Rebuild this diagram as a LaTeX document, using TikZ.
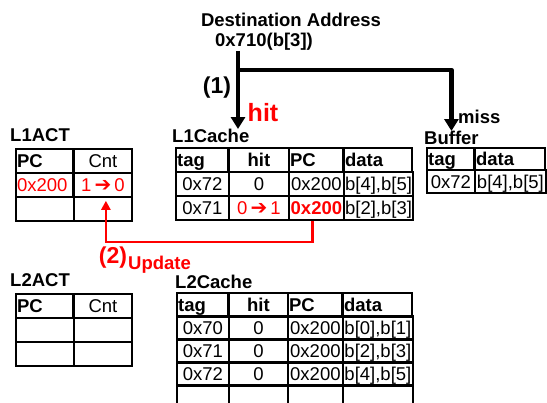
\documentclass[tikz,border=0pt]{standalone}
\usepackage{fontspec}
\setmainfont{Liberation Sans}
\newfontfamily\arrowfont{DejaVu Sans}
\usetikzlibrary{arrows.meta}

\definecolor{updred}{RGB}{255,0,0}
\newcommand{\tbl}{\fontsize{18.5}{20}\selectfont}
\newcommand{\upto}{\,{\arrowfont\fontsize{20}{20}\selectfont ➔}\,}

\tikzset{
  cell/.style={draw, line width=1.8pt, anchor=north west, minimum height=24pt,
    inner xsep=1.2pt, inner ysep=0pt, text height=12.8pt, text depth=0pt, font=\tbl},
  head/.style={cell, font=\tbl\bfseries},
  lalign/.style={text width=#1, align=left},
  title/.style={font=\tbl\bfseries, anchor=west, inner sep=0pt},
  flow/.style={line width=4.5pt, line join=round, -{Triangle[width=14pt,length=12pt]}},
  update/.style={updred, line width=2.8pt, -{Triangle[width=9pt,length=9pt]}}
}

\begin{document}
\begin{tikzpicture}[x=1pt,y=-1pt]
        \useasboundingbox (0,0) rectangle (547,403);

        % Direccion destino
        \node[title, anchor=center] (addr) at (291,20) {Destination Address};
        \node[title, anchor=center] (addrval) at (264,42) {0x710(b[3])};
        \coordinate (split) at (238,70);

        % L1ACT
        \node[title] (l1acttl) at (10,135) {L1ACT};
        \node[head, lalign=55pt] (l1act-pc0) at (15,148) {PC};
        \node[cell, minimum width=58pt] (l1act-cnt0) at (73,148) {Cnt};
        \node[cell, lalign=55pt, text=updred] (l1act-pc1) at (15,172) {0x200};
        \node[cell, minimum width=58pt, text=updred] (l1act-cnt1) at (73,172) {1\upto0};
        \node[cell, minimum width=58pt] (l1act-pc2) at (15,196) {};
        \node[cell, minimum width=58pt] (l1act-cnt2) at (73,196) {};

        % L1Cache
        \node[title] (l1ctl) at (172,136) {L1Cache};
        \node[head, lalign=50pt] (l1c-tag0) at (175,147) {tag};
        \node[head, minimum width=60pt] (l1c-hit0) at (228,147) {hit};
        \node[head, lalign=52pt] (l1c-pc0) at (288,147) {PC};
        \node[head, lalign=66pt] (l1c-data0) at (343,147) {data};
        \node[cell, minimum width=53pt] (l1c-tag1) at (175,171) {0x72};
        \node[cell, minimum width=60pt] (l1c-hit1) at (228,171) {0};
        \node[cell, minimum width=55pt] (l1c-pc1) at (288,171) {0x200};
        \node[cell, minimum width=69pt] (l1c-data1) at (343,171) {b[4],b[5]};
        \node[cell, minimum width=53pt] (l1c-tag2) at (175,195) {0x71};
        \node[cell, minimum width=60pt, text=updred] (l1c-hit2) at (228,195) {0\upto1};
        \node[cell, minimum width=55pt, text=updred, font=\tbl\bfseries] (l1c-pc2) at (288,195) {0x200};
        \node[cell, minimum width=69pt] (l1c-data2) at (343,195) {b[2],b[3]};

        % Buffer
        \node[title] (buftl) at (424,138) {Buffer};
        \node[head, lalign=45pt, minimum height=22.5pt] (buf-tag0) at (426,147) {tag};
        \node[head, lalign=68pt, minimum height=22.5pt] (buf-data0) at (474,147) {data};
        \node[cell, minimum width=48pt, minimum height=22.5pt] (buf-tag1) at (426,169.5) {0x72};
        \node[cell, minimum width=71pt, minimum height=22.5pt] (buf-data1) at (474,169.5) {b[4],b[5]};

        % Flechas (1)
        \draw[flow] (addrval.south -| split) -- (split |- l1ctl.north);
        \draw[flow] (split) -| (buftl.north);
        \node[font=\fontsize{23}{24}\selectfont\bfseries] (step1) at (217,87.5) {(1)};
        \node[font=\fontsize{25}{26}\selectfont\bfseries, text=updred] (hitlbl) at (263,113) {hit};
        \node[title] (misslbl) at (458,117) {miss};

        % Actualizacion (2)
        \coordinate (updlevel) at (0,242);
        \draw[update] ([xshift=-4pt]l1c-pc2.south) -- ([xshift=-4pt]l1c-pc2.south |- updlevel)
            -| ([xshift=3pt,yshift=-3pt]l1act-cnt1.south);
        \node[font=\fontsize{23}{24}\selectfont\bfseries, text=updred] (step2) at (113,258) {(2)};
        \node[font=\tbl\bfseries, text=updred, anchor=base west, inner sep=0pt] (updlbl) at (128,270) {Update};

        % L2ACT
        \node[title] (l2acttl) at (10,280) {L2ACT};
        \node[head, lalign=55pt] (l2act-pc0) at (15,293) {PC};
        \node[cell, minimum width=58pt] (l2act-cnt0) at (73,293) {Cnt};
        \node[cell, minimum width=58pt] (l2act-pc1) at (15,317) {};
        \node[cell, minimum width=58pt] (l2act-cnt1) at (73,317) {};
        \node[cell, minimum width=58pt] (l2act-pc2) at (15,341) {};
        \node[cell, minimum width=58pt] (l2act-cnt2) at (73,341) {};

        % L2Cache
        \node[title] (l2ctl) at (175,282) {L2Cache};
        \begin{scope}[every node/.append style={minimum height=23pt}]
        \node[head, lalign=49pt] (l2c-tag0) at (176,292) {tag};
        \node[head, minimum width=59pt] (l2c-hit0) at (228,292) {hit};
        \node[head, lalign=52pt] (l2c-pc0) at (287,292) {PC};
        \node[head, lalign=67pt] (l2c-data0) at (342,292) {data};
        \node[cell, minimum width=52pt] (l2c-tag1) at (176,315) {0x70};
        \node[cell, minimum width=59pt] (l2c-hit1) at (228,315) {0};
        \node[cell, minimum width=55pt] (l2c-pc1) at (287,315) {0x200};
        \node[cell, minimum width=70pt] (l2c-data1) at (342,315) {b[0],b[1]};
        \node[cell, minimum width=52pt] (l2c-tag2) at (176,338) {0x71};
        \node[cell, minimum width=59pt] (l2c-hit2) at (228,338) {0};
        \node[cell, minimum width=55pt] (l2c-pc2) at (287,338) {0x200};
        \node[cell, minimum width=70pt] (l2c-data2) at (342,338) {b[2],b[3]};
        \node[cell, minimum width=52pt] (l2c-tag3) at (176,361) {0x72};
        \node[cell, minimum width=59pt] (l2c-hit3) at (228,361) {0};
        \node[cell, minimum width=55pt] (l2c-pc3) at (287,361) {0x200};
        \node[cell, minimum width=70pt] (l2c-data3) at (342,361) {b[4],b[5]};
        \node[cell, minimum width=52pt] (l2c-tag4) at (176,384) {};
        \node[cell, minimum width=59pt] (l2c-hit4) at (228,384) {};
        \node[cell, minimum width=55pt] (l2c-pc4) at (287,384) {};
        \node[cell, minimum width=70pt] (l2c-data4) at (342,384) {};
        \end{scope}
    \end{tikzpicture}
\end{document}
